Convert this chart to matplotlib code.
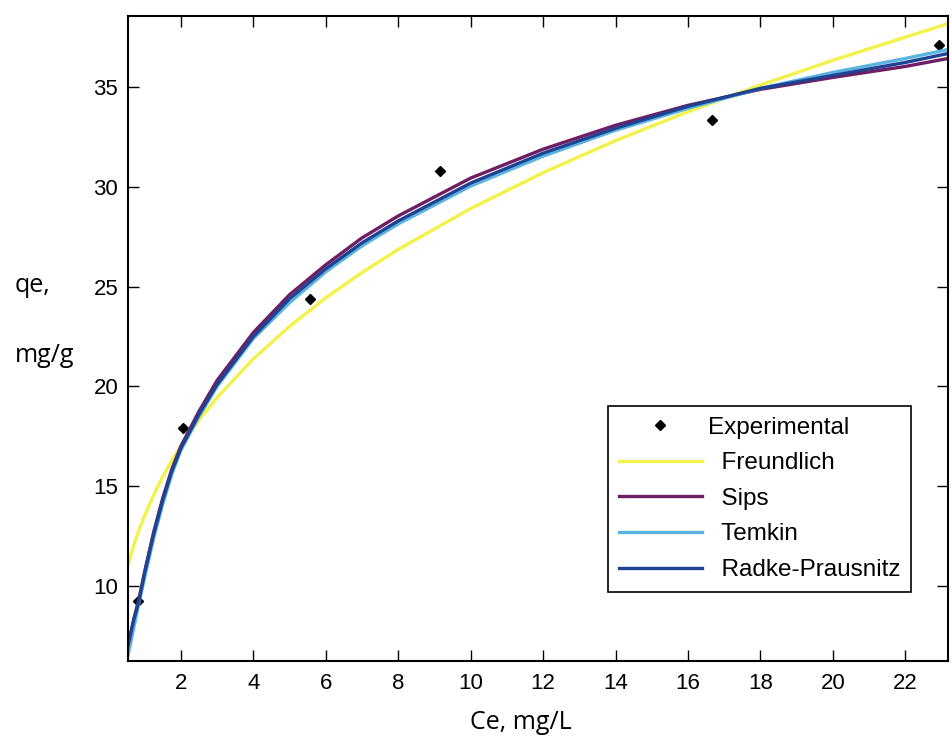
import matplotlib
matplotlib.use("Agg")
import matplotlib.pyplot as plt

# experimental points
ce_exp = [0.82, 2.05, 5.57, 9.16, 16.67, 22.92]
qe_exp = [9.23, 17.9, 24.37, 30.82, 33.36, 37.12]

# fitted curves, sampled by eye along each line
ce_fit = [0.54, 0.7, 0.85, 1.0, 1.25, 1.5, 1.75, 2.0, 2.5, 3.0, 4.0, 5.0,
          6.0, 7.0, 8.0, 10.0, 12.0, 14.0, 16.0, 18.0, 20.0, 22.0, 23.18]
freundlich = [11.05, 12.03, 12.82, 13.53, 14.56, 15.47, 16.28, 17.01, 18.31, 19.44, 21.38, 23.01,
              24.44, 25.71, 26.87, 28.92, 30.72, 32.33, 33.78, 35.12, 36.36, 37.52, 38.2]
sips = [7.0, 8.3, 9.4, 10.7, 12.7, 14.4, 15.85, 17.0, 18.75, 20.3, 22.7, 24.6,
        26.1, 27.45, 28.55, 30.45, 31.9, 33.1, 34.1, 34.9, 35.5, 36.05, 36.45]
temkin = [6.5, 7.9, 9.2, 10.4, 12.4, 14.1, 15.6, 16.8, 18.5, 20.0, 22.4, 24.2,
          25.75, 27.05, 28.15, 30.05, 31.55, 32.85, 33.95, 34.95, 35.75, 36.45, 36.9]
radke = [7.0, 8.3, 9.3, 10.65, 12.6, 14.3, 15.75, 16.9, 18.6, 20.1, 22.5, 24.4,
         25.9, 27.2, 28.3, 30.2, 31.7, 32.95, 34.05, 34.95, 35.6, 36.25, 36.7]

x_ticks = [2, 4, 6, 8, 10, 12, 14, 16, 18, 20, 22]
y_ticks = [10, 15, 20, 25, 30, 35]


def main():
	fig = plt.figure(figsize=(9.53, 7.42), dpi=100)
	ax = fig.add_axes([0.1343, 0.1096, 0.8605, 0.8688])

	ax.plot(ce_exp, qe_exp, linestyle="none", marker="D", markersize=4.8,
		color="black", label="Experimental")
	ax.plot(ce_fit, freundlich, color="#f2f24a", linewidth=2.4, label="  Freundlich")
	ax.plot(ce_fit, sips, color="#6e1e64", linewidth=2.4, label="  Sips")
	ax.plot(ce_fit, temkin, color="#5ab4e0", linewidth=2.4, label="  Temkin")
	ax.plot(ce_fit, radke, color="#1f4391", linewidth=2.4, label="  Radke-Prausnitz")

	ax.set_xlim(0.54, 23.18)
	ax.set_ylim(6.24, 38.58)
	ax.set_xticks(x_ticks)
	ax.set_yticks(y_ticks)
	ax.tick_params(direction="in", length=8, width=1, top=True, right=True,
		labelsize=16)
	ax.tick_params(axis="x", pad=9)
	ax.tick_params(axis="y", pad=7)
	for label in ax.get_xticklabels() + ax.get_yticklabels():
		label.set_fontfamily("Liberation Sans")
	for spine in ax.spines.values():
		spine.set_linewidth(1.5)

	legend = ax.legend(loc="lower right", bbox_to_anchor=(0.955, 0.1066),
		borderaxespad=0, prop={"family": "Liberation Sans", "size": 17.5},
		frameon=True, fancybox=False, edgecolor="black", framealpha=1,
		handlelength=3.4, labelspacing=0.56, borderpad=0.45, handletextpad=0.25)
	legend.get_frame().set_linewidth(1.2)

	fig.text(0.0157, 0.6065, "qe,", family="Open Sans", fontsize=18)
	fig.text(0.0157, 0.512, "mg/g", family="Open Sans", fontsize=18)
	fig.text(0.547, 0.0175, "Ce, mg/L", family="Open Sans", fontsize=18, ha="center")

	fig.savefig("out.png", dpi=100)
	plt.close(fig)
	return 0


if __name__ == "__main__":
	raise SystemExit(main())
